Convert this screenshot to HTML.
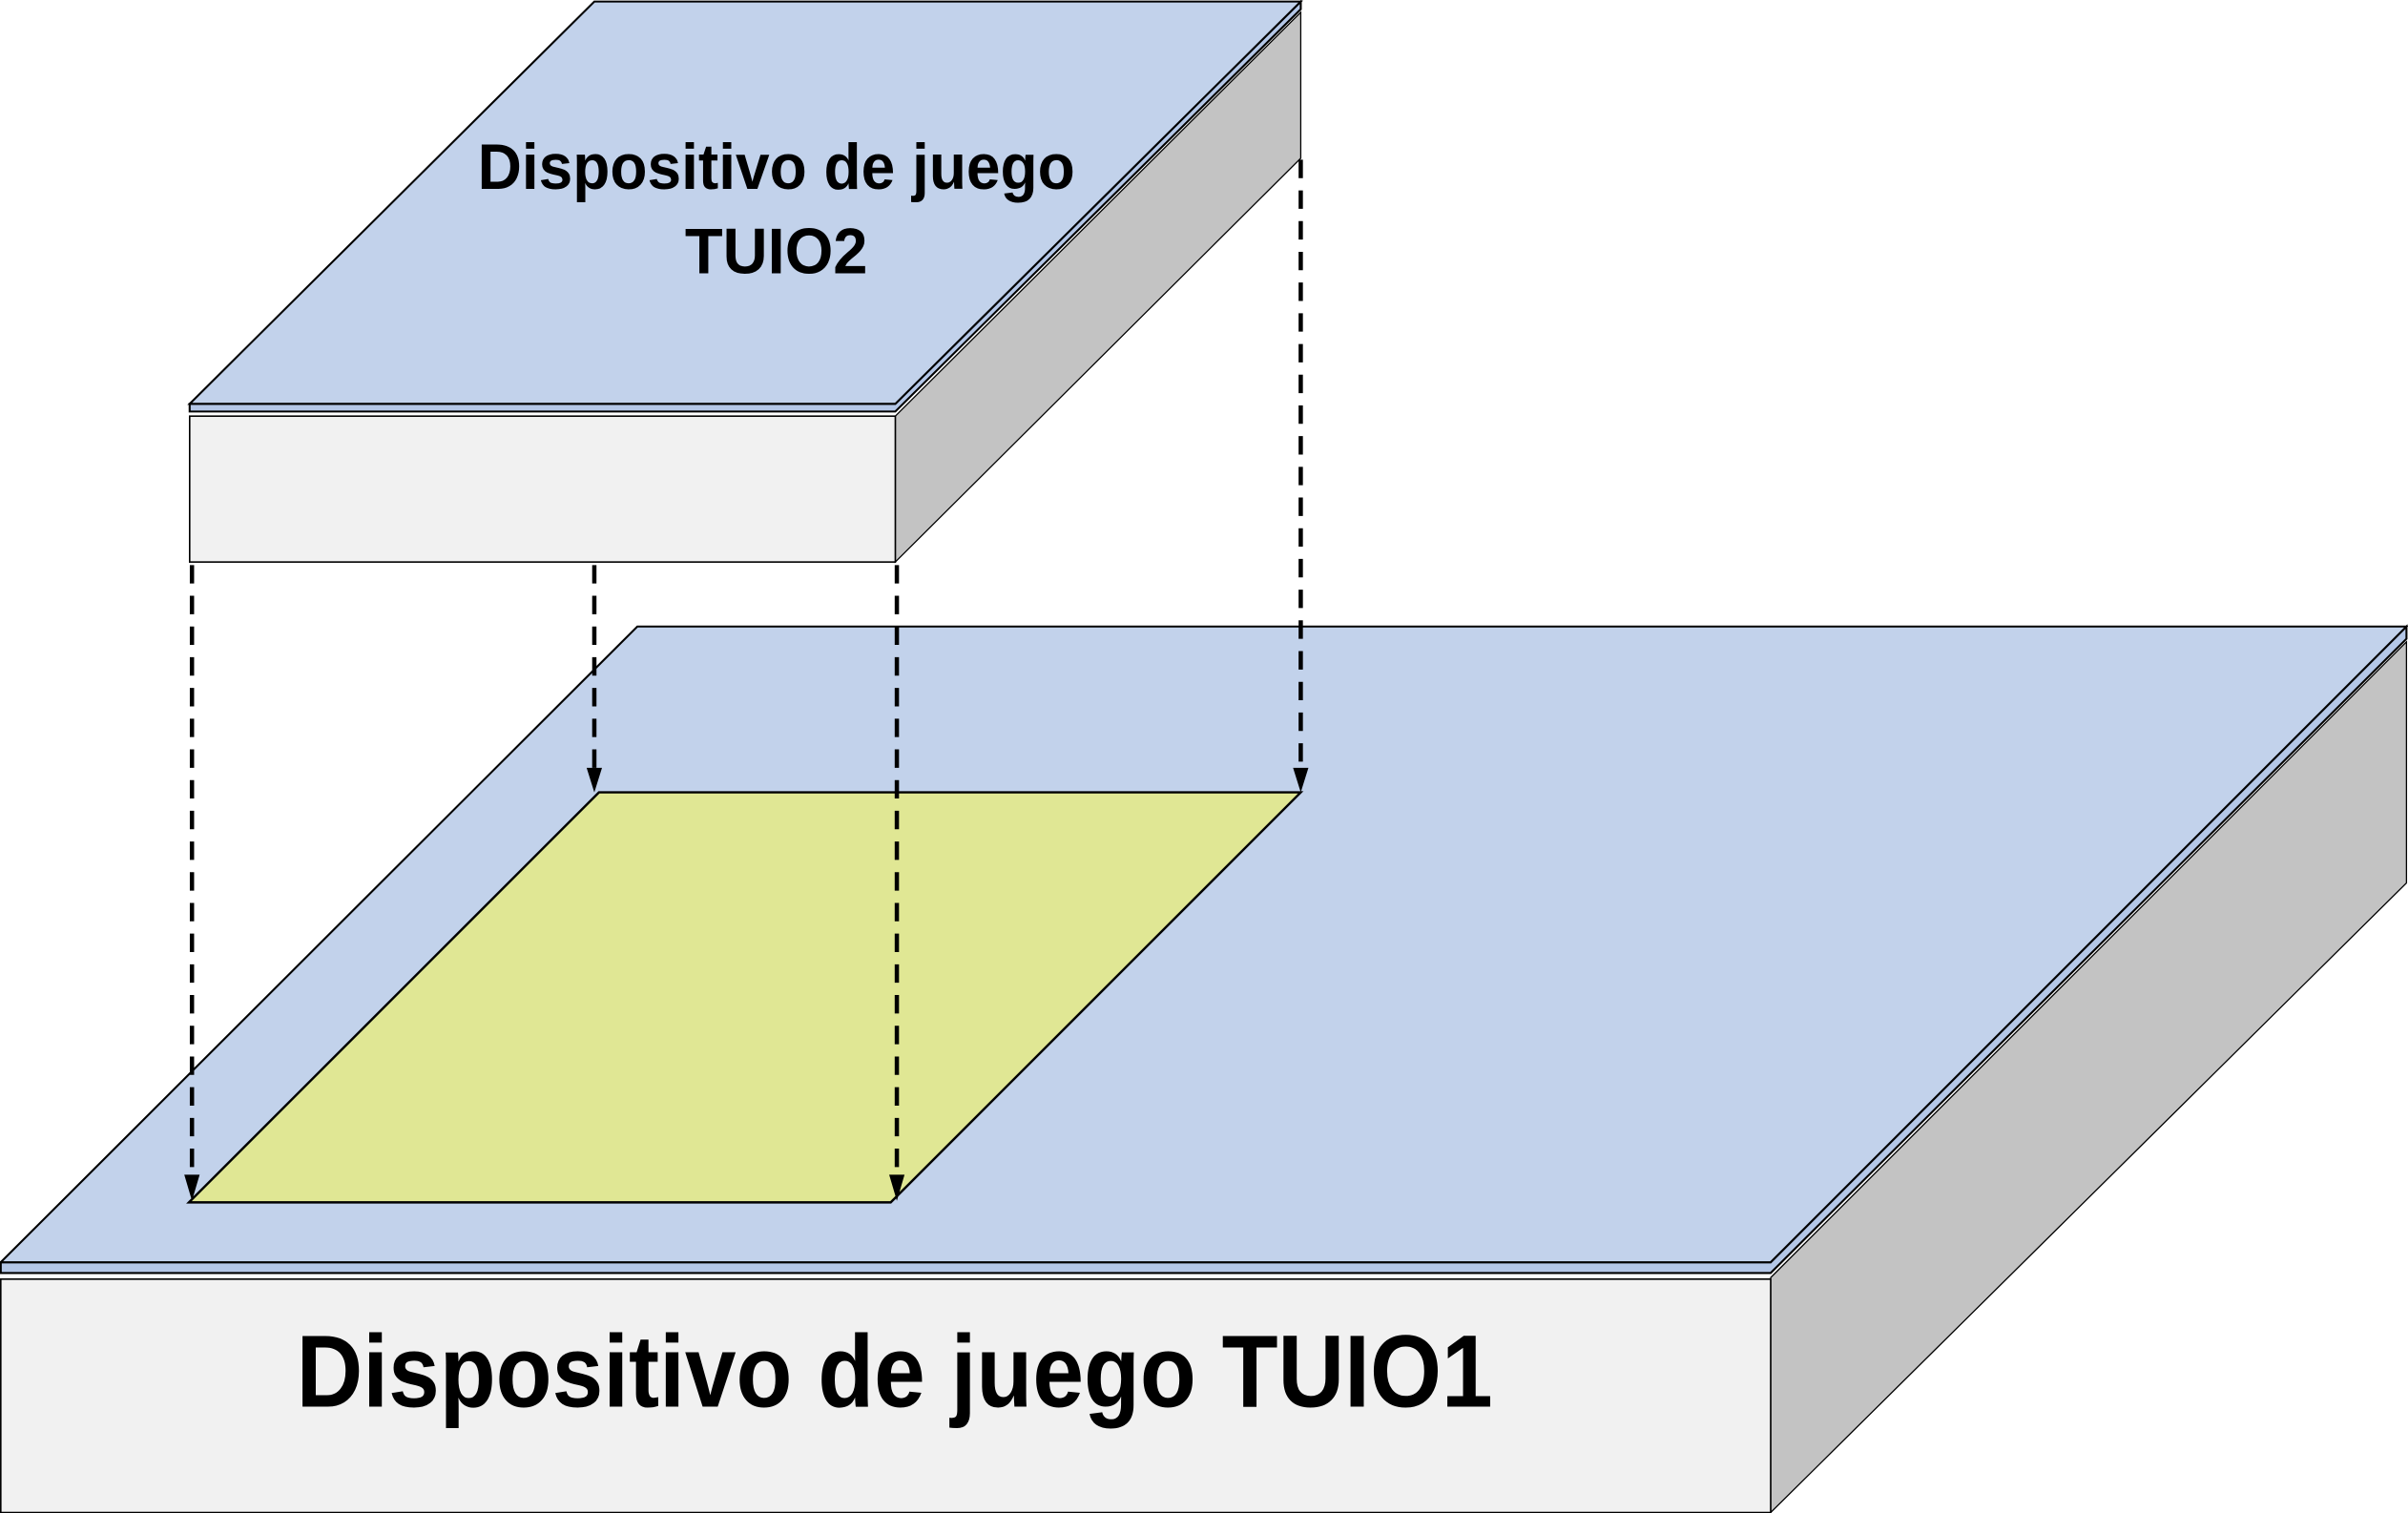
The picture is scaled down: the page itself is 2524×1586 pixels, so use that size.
<!DOCTYPE html>
<html><head><meta charset="utf-8"><style>
html,body{margin:0;padding:0;background:#fff}
svg{display:block}
</style></head><body>
<svg width="2524" height="1586" viewBox="0 0 1568 985.3" preserveAspectRatio="none" xmlns="http://www.w3.org/2000/svg">
<!-- Big box -->
<polygon points="1153,832 1567,418 1567,575 1153,985" fill="#c3c3c3" stroke="#000" stroke-width="0.8"/>
<rect x="0.5" y="833" width="1152.5" height="152" fill="#f1f1f1" stroke="#000" stroke-width="1"/>
<polygon points="0.5,822 1153,822 1567,408 1567,416 1153,829 0.5,829" fill="#b4c7e7" stroke="#000" stroke-width="1.3"/>
<polygon points="0.5,822 415,408 1567,408 1153,822" fill="#c2d2eb" stroke="#000" stroke-width="1.3"/>
<!-- yellow -->
<polygon points="390,516 847,516 580,783 123,783" fill="#e0e794" stroke="#000" stroke-width="1.5"/>
<!-- Top box -->
<polygon points="583,271 847,8 847,103 583,366" fill="#c3c3c3" stroke="#000" stroke-width="0.8"/>
<rect x="123.5" y="271" width="459.5" height="95" fill="#f1f1f1" stroke="#000" stroke-width="1"/>
<polygon points="123.5,263 583,263 847,1 847,6 583,268 123.5,268" fill="#b4c7e7" stroke="#000" stroke-width="1.3"/>
<polygon points="123.5,263 387,1 847,1 583,263" fill="#c2d2eb" stroke="#000" stroke-width="1.3"/>
<!-- dashed lines -->
<g stroke="#000" stroke-width="2.8" stroke-dasharray="12,8" fill="none">
<line x1="125" y1="368" x2="125" y2="768"/>
<line x1="387" y1="368" x2="387" y2="501"/>
<line x1="584" y1="368" x2="584" y2="768"/>
<line x1="847" y1="104" x2="847" y2="501"/>
</g>
<g fill="#000">
<polygon points="120,765 130,765 125,782"/>
<polygon points="382,500 392,500 387,516"/>
<polygon points="579,765 589,765 584,782"/>
<polygon points="842,500 852,500 847,516"/>
</g>
<!-- text -->
<g font-family="'Liberation Sans', 'DejaVu Sans', sans-serif" font-weight="bold" fill="#000">
<text x="311" y="123" font-size="42" textLength="389" lengthAdjust="spacingAndGlyphs">Dispositivo de juego</text>
<text x="446" y="178" font-size="42" textLength="119" lengthAdjust="spacingAndGlyphs">TUIO2</text>
<text x="193" y="916" font-size="67" textLength="779" lengthAdjust="spacingAndGlyphs">Dispositivo de juego TUIO1</text>
</g>
</svg>
</body></html>
